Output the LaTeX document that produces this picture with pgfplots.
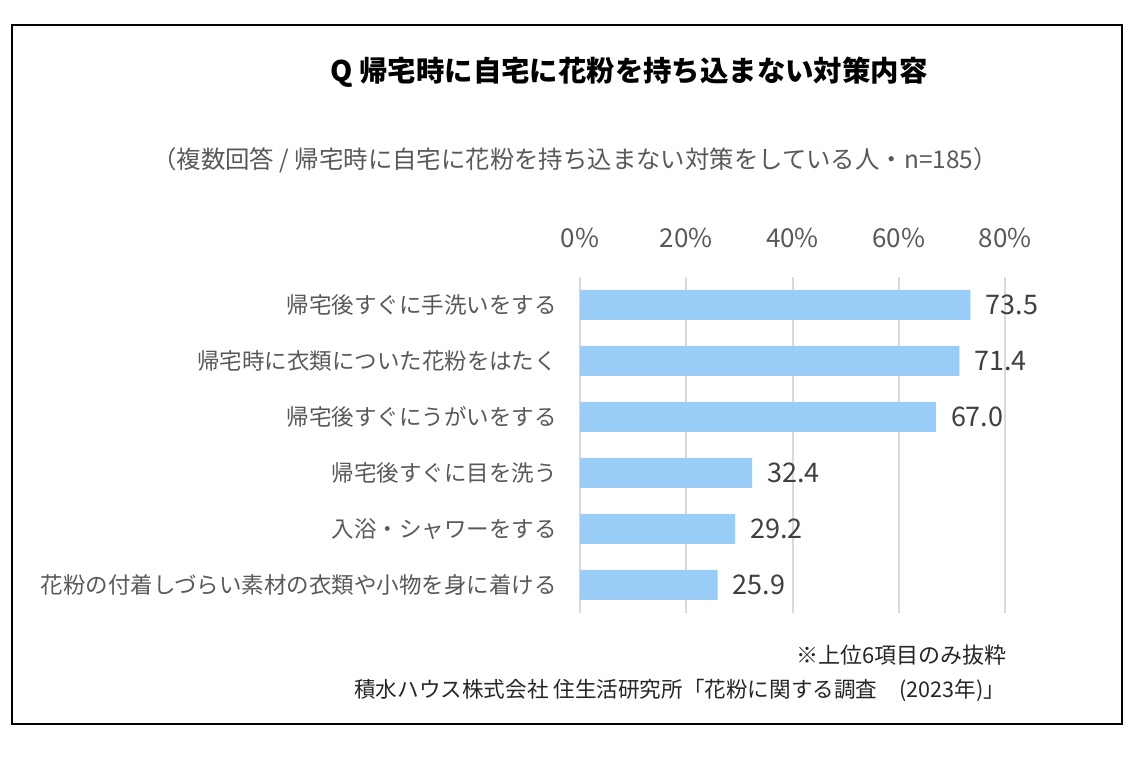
\documentclass[border=0pt]{standalone}
\usepackage{pgfplots}
\pgfplotsset{compat=1.18}
\usepackage{fontspec}
\setmainfont{Noto Sans CJK JP}
\definecolor{barblue}{RGB}{153,204,247}
\definecolor{txtgray}{RGB}{89,89,89}
\definecolor{gridgray}{RGB}{217,217,217}
\begin{document}
\begin{tikzpicture}[x=1pt,y=1pt]
\fill[white] (0,0) rectangle (570,384.5);
\draw[black,line width=1pt] (6,22.5) rectangle (561,372);
\node[font=\fontsize{14.2}{16}\selectfont\bfseries, text=black] at (314.5,348.5) {Q 帰宅時に自宅に花粉を持ち込まない対策内容};
\node[font=\fontsize{12.2}{14}\selectfont, text=txtgray] at (287.5,304.5) {（複数回答 / 帰宅時に自宅に花粉を持ち込まない対策をしている人・n=185）};
\node[font=\fontsize{11}{12}\selectfont, text=black!85, anchor=east] at (507,57) {※上位6項目のみ抜粋};
\node[font=\fontsize{10.8}{13}\selectfont, text=black!85, anchor=east] at (506,39.5) {積水ハウス株式会社 住生活研究所「花粉に関する調査　(2023年)」};
\begin{axis}[
  at={(290pt,78pt)}, anchor=south west,
  scale only axis, width=212.5pt, height=168pt,
  xbar, bar width=15pt,
  xmin=0, xmax=80, ymin=-0.5, ymax=5.5,
  y dir=reverse,
  xtick={0,20,40,60,80},
  xticklabel={\pgfmathprintnumber{\tick}\%},
  xticklabel pos=top,
  xticklabel style={font=\fontsize{13}{15}\selectfont, text=txtgray, yshift=11pt},
  ytick={0,1,2,3,4,5},
  yticklabels={帰宅後すぐに手洗いをする,帰宅時に衣類についた花粉をはたく,帰宅後すぐにうがいをする,帰宅後すぐに目を洗う,入浴・シャワーをする,花粉の付着しづらい素材の衣類や小物を身に着ける},
  yticklabel style={font=\fontsize{11.25}{13}\selectfont, text=txtgray, xshift=-8pt},
  major tick length=0pt,
  axis line style={draw=none},
  xmajorgrids, grid style={gridgray, line width=1pt},
  nodes near coords,
  nodes near coords style={font=\fontsize{13.5}{15}\selectfont, text=black!75, /pgf/number format/fixed, /pgf/number format/precision=1, /pgf/number format/fixed zerofill, /pgf/number format/assume math mode=true, xshift=4pt},
  /pgf/number format/assume math mode=true,
]
\addplot[fill=barblue, draw=none] coordinates {(73.5,0) (71.4,1) (67.0,2) (32.4,3) (29.2,4) (25.9,5)};
\end{axis}
\end{tikzpicture}
\end{document}
